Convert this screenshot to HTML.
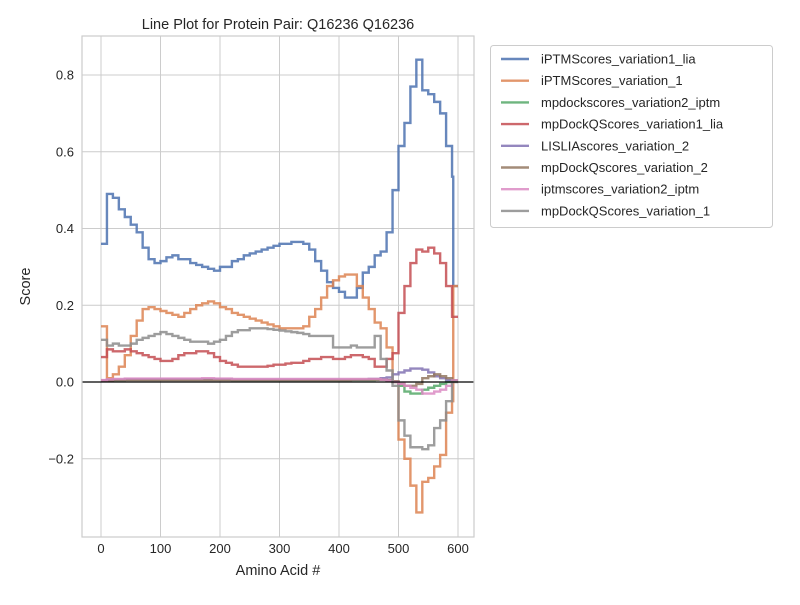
<!DOCTYPE html>
<html><head><meta charset="utf-8"><style>
body{margin:0;background:#fff;font-family:"Liberation Sans","DejaVu Sans",sans-serif;}
svg text{font-family:"Liberation Sans","DejaVu Sans",sans-serif;fill:#262626;}
</style></head><body>
<svg id="chart" width="800" height="600" xmlns="http://www.w3.org/2000/svg">
<rect width="800" height="600" fill="#fff"/>
<g id="grid"></g><g id="series"></g><g id="axes"></g><g id="legend"></g>
</svg>
<script>
const xs = [0,10,20,30,40,50,60,70,80,90,100,110,120,130,140,150,160,170,180,190,200,210,220,230,240,250,260,270,280,290,300,310,320,330,340,350,360,370,380,390,400,410,420,430,440,450,460,470,480,490,500,510,520,530,540,550,560,570,580,590];
const xEnd = 600;
const seriesNames = ["iPTMScores_variation1_lia","iPTMScores_variation_1","mpdockscores_variation2_iptm","mpDockQScores_variation1_lia","LISLIAscores_variation_2","mpDockQscores_variation_2","iptmscores_variation2_iptm","mpDockQScores_variation_1"];
const colors = ["#4c72b0","#dd8452","#55a868","#c44e52","#8172b3","#937860","#da8bc3","#8c8c8c"];
const blue = [0.36,0.49,0.48,0.45,0.43,0.41,0.39,0.35,0.32,0.31,0.315,0.325,0.33,0.32,0.32,0.31,0.305,0.30,0.295,0.29,0.30,0.30,0.315,0.32,0.33,0.335,0.34,0.345,0.35,0.355,0.36,0.36,0.365,0.365,0.36,0.345,0.315,0.29,0.26,0.245,0.235,0.22,0.22,0.245,0.285,0.30,0.33,0.34,0.39,0.50,0.615,0.675,0.77,0.84,0.76,0.75,0.73,0.70,0.615,0.535];
const orange = [0.145,0.01,0.02,0.04,0.07,0.12,0.16,0.19,0.195,0.19,0.185,0.18,0.175,0.17,0.18,0.19,0.20,0.205,0.21,0.205,0.195,0.19,0.18,0.175,0.17,0.165,0.16,0.155,0.15,0.145,0.14,0.14,0.14,0.14,0.145,0.17,0.19,0.22,0.25,0.265,0.275,0.28,0.28,0.25,0.22,0.19,0.155,0.14,0.09,0.0,-0.15,-0.2,-0.27,-0.34,-0.26,-0.25,-0.22,-0.19,-0.08,-0.05];
const green = [0.003,0.004,0.005,0.005,0.006,0.006,0.006,0.006,0.006,0.006,0.006,0.006,0.006,0.006,0.006,0.006,0.006,0.006,0.006,0.006,0.006,0.006,0.005,0.005,0.005,0.005,0.005,0.005,0.005,0.005,0.005,0.005,0.005,0.005,0.005,0.005,0.005,0.005,0.005,0.005,0.005,0.005,0.005,0.005,0.005,0.005,0.006,0.006,0.004,0.0,-0.01,-0.025,-0.03,-0.03,-0.02,-0.015,-0.01,-0.005,0.0,0.003];
const red = [0.065,0.085,0.08,0.08,0.085,0.08,0.075,0.07,0.065,0.06,0.055,0.055,0.06,0.07,0.075,0.075,0.08,0.08,0.075,0.065,0.055,0.05,0.045,0.04,0.04,0.04,0.04,0.04,0.042,0.045,0.045,0.048,0.05,0.05,0.055,0.06,0.06,0.065,0.065,0.06,0.06,0.065,0.07,0.07,0.065,0.06,0.04,0.04,0.06,0.075,0.18,0.25,0.31,0.345,0.34,0.35,0.335,0.31,0.25,0.17];
const purple = [0.004,0.005,0.006,0.006,0.007,0.007,0.007,0.007,0.007,0.007,0.007,0.007,0.007,0.007,0.007,0.007,0.007,0.007,0.007,0.007,0.007,0.007,0.006,0.006,0.006,0.006,0.006,0.006,0.006,0.006,0.006,0.006,0.006,0.006,0.006,0.006,0.006,0.006,0.006,0.006,0.006,0.006,0.006,0.006,0.006,0.008,0.008,0.01,0.012,0.02,0.025,0.03,0.035,0.035,0.032,0.025,0.015,0.01,0.005,0.004];
const brown = [0.003,0.004,0.005,0.005,0.005,0.005,0.005,0.005,0.005,0.005,0.005,0.005,0.005,0.005,0.005,0.005,0.005,0.005,0.005,0.005,0.005,0.005,0.005,0.005,0.005,0.005,0.005,0.005,0.005,0.005,0.005,0.005,0.005,0.005,0.005,0.005,0.005,0.005,0.005,0.005,0.005,0.005,0.006,0.006,0.006,0.006,0.006,0.006,0.005,0.002,-0.005,-0.01,-0.01,-0.005,0.01,0.015,0.02,0.015,0.01,0.004];
const pink = [0.005,0.007,0.008,0.008,0.009,0.009,0.009,0.009,0.009,0.009,0.009,0.009,0.009,0.009,0.009,0.009,0.009,0.01,0.01,0.009,0.009,0.009,0.008,0.008,0.008,0.008,0.008,0.008,0.008,0.008,0.008,0.008,0.008,0.008,0.008,0.008,0.008,0.008,0.008,0.008,0.008,0.008,0.008,0.008,0.008,0.008,0.008,0.006,0.004,0.0,-0.005,-0.01,-0.015,-0.02,-0.03,-0.03,-0.025,-0.02,-0.01,0.004];
const gray = [0.11,0.095,0.10,0.095,0.095,0.10,0.11,0.115,0.12,0.125,0.13,0.125,0.12,0.115,0.11,0.105,0.105,0.105,0.10,0.105,0.11,0.12,0.13,0.135,0.135,0.14,0.14,0.14,0.138,0.136,0.134,0.132,0.13,0.128,0.125,0.12,0.12,0.12,0.12,0.09,0.09,0.09,0.095,0.09,0.09,0.09,0.12,0.06,0.03,-0.01,-0.1,-0.14,-0.17,-0.17,-0.175,-0.165,-0.12,-0.1,-0.05,0.0];
const tailX = 592;
const tailValues = [0.25,0.25,0.003,0.17,0.004,0.004,0.004,0.0];
const allSeries = [blue,orange,green,red,purple,brown,pink,gray];
const xTicks = [0,100,200,300,400,500,600];
const yTicks = [-0.2,0,0.2,0.4,0.6,0.8];

const L=82,R=474,T=36,B=537;
const X = v => 101 + v*(458-101)/600;
const Y = v => 382 - v*(382-75)/0.8;
const NS="http://www.w3.org/2000/svg";
function mk(tag, attrs, parent){const e=document.createElementNS(NS,tag);for(const k in attrs)e.setAttribute(k,attrs[k]);parent.appendChild(e);return e;}
const grid=document.getElementById('grid'), ser=document.getElementById('series'), ax=document.getElementById('axes'), leg=document.getElementById('legend');
xTicks.forEach(t=>{const l=mk('line',{x1:X(t),x2:X(t),y1:T,y2:B,stroke:'#cccccc','stroke-width':1},grid);


const tx=mk('text',{x:X(t),y:B+16,'text-anchor':'middle','font-size':13},ax);tx.textContent=t;

});
yTicks.forEach(t=>{const l=mk('line',{x1:L,x2:R,y1:Y(t),y2:Y(t),stroke:'#cccccc','stroke-width':1},grid);


const tx=mk('text',{x:L-8,y:Y(t)+4.5,'text-anchor':'end','font-size':13},ax);tx.textContent=(t<0?'\u2212'+Math.abs(t).toFixed(1):t.toFixed(1));

});
allSeries.forEach((s,i)=>{let d='';s.forEach((v,j)=>{const x0=X(xs[j]),x1=X(j+1<xs.length?xs[j+1]:tailX);d+=(j?'L':'M')+x0+','+Y(v)+'L'+x1+','+Y(v);});
d+='L'+X(tailX)+','+Y(tailValues[i])+'L'+X(xEnd)+','+Y(tailValues[i]);
const p=mk('path',{d:d,fill:'none',stroke:colors[i],'stroke-width':2.4,'stroke-opacity':0.85},ser);

});
const zl=mk('line',{x1:L,x2:R,y1:Y(0),y2:Y(0),stroke:'#000','stroke-width':1.2},ser);


const fr=mk('rect',{x:L,y:T,width:R-L,height:B-T,fill:'none',stroke:'#cccccc','stroke-width':1.2},ax);


const tt=mk('text',{x:(L+R)/2,y:T-7,'text-anchor':'middle','font-size':14.5},ax);tt.textContent='Line Plot for Protein Pair: Q16236 Q16236';


const xl=mk('text',{x:(L+R)/2,y:575,'text-anchor':'middle','font-size':14.5},ax);xl.textContent='Amino Acid #';


const yl=mk('text',{x:30,y:(T+B)/2,'text-anchor':'middle','font-size':14.5,transform:'rotate(-90 30 '+((T+B)/2)+')'},ax);yl.textContent='Score';


const lb=mk('rect',{x:490.5,y:45.5,width:282,height:182,rx:3,fill:'#fff',stroke:'#cccccc','stroke-width':1},leg);


seriesNames.forEach((n,i)=>{const y=59+i*21.7;
const g=mk('g',{},leg);


mk('line',{x1:501,x2:529,y1:y,y2:y,stroke:colors[i],'stroke-width':2.4,'stroke-opacity':0.85},g);
const t=mk('text',{x:541,y:y+4.5,'font-size':13},g);t.textContent=n;});
</script>
</body></html>
